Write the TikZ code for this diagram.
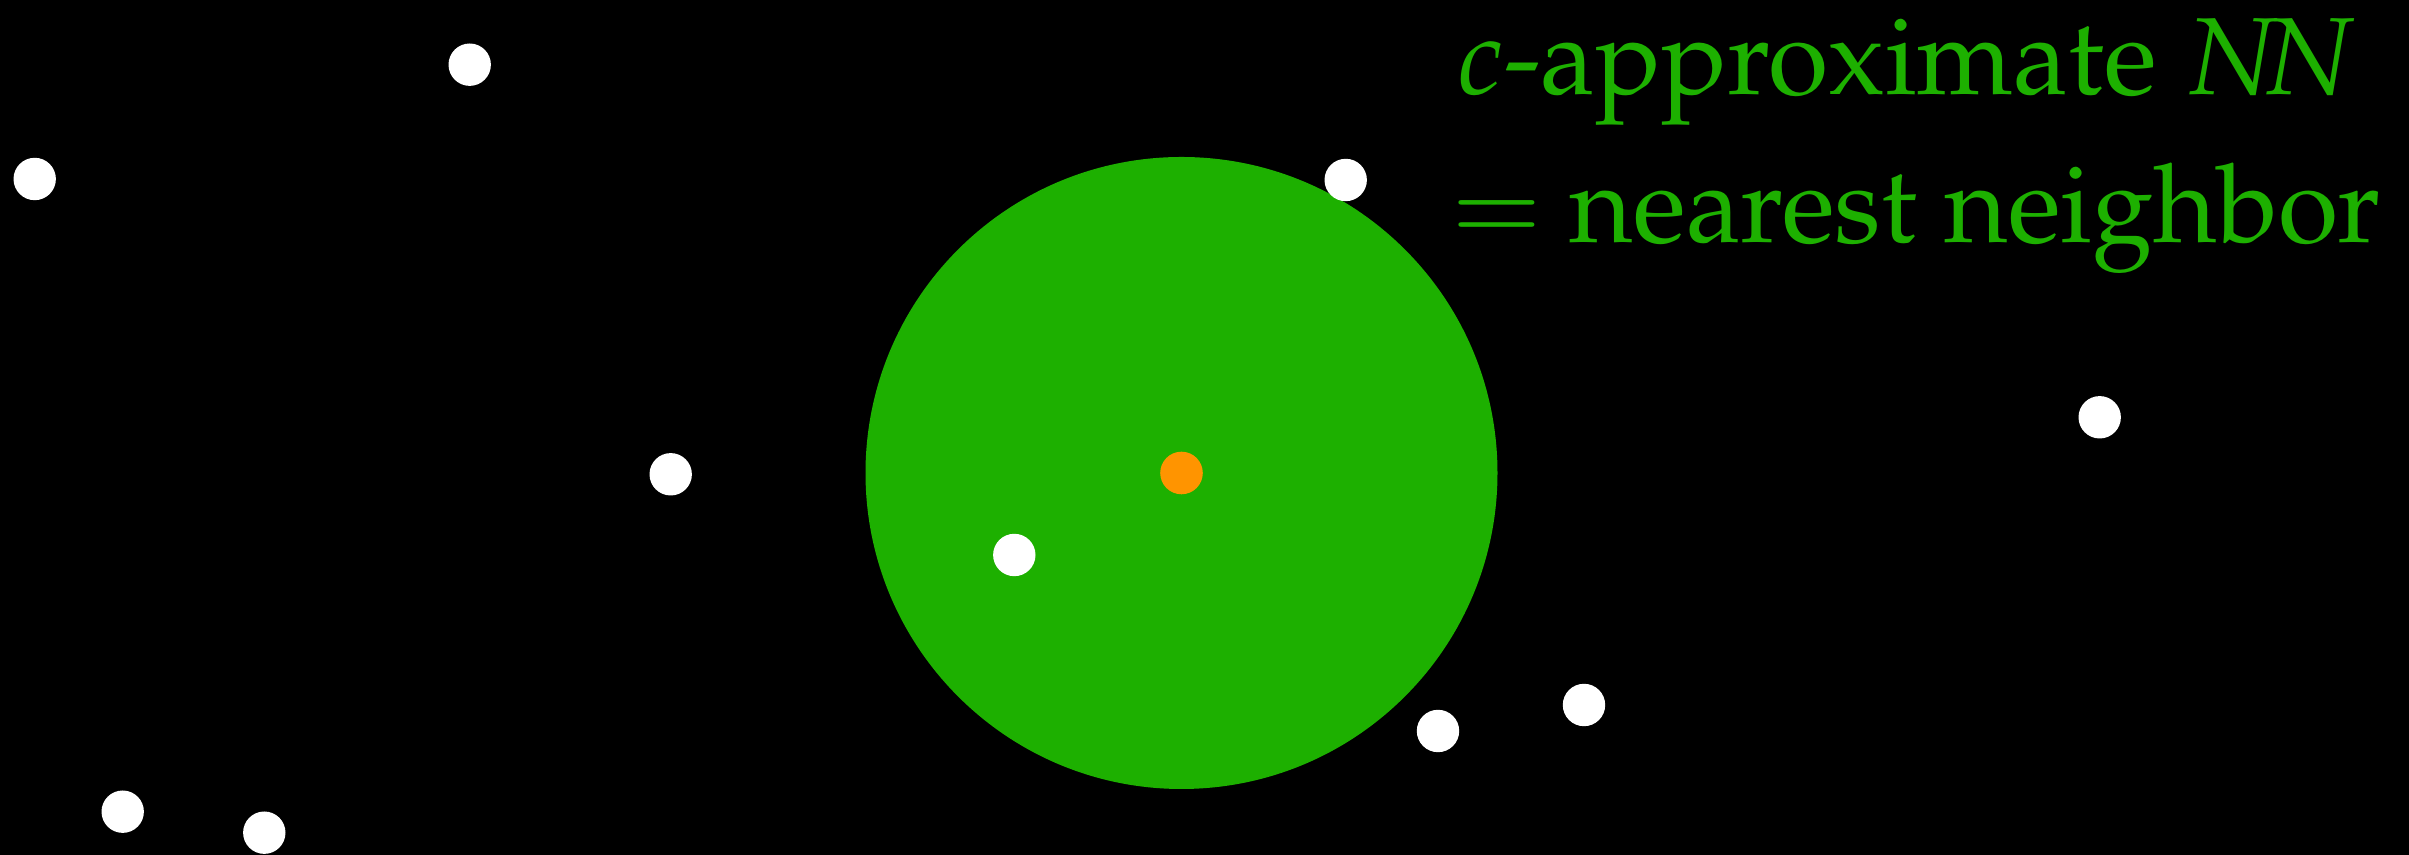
\documentclass[tikz,border=0pt]{standalone}
\usepackage[T1]{fontenc}
\usepackage{mathpazo}
\definecolor{ballgreen}{HTML}{1DB000}
\definecolor{qorange}{HTML}{FF9400}

\tikzset{
  pt/.style={circle,fill=white,inner sep=0pt,minimum size=0.424cm},
  query/.style={circle,fill=qorange,inner sep=0pt,minimum size=0.426cm},
  label/.style={ballgreen,inner sep=0pt,anchor=base west,font=\fontsize{31.2}{37}\selectfont}
}

\begin{document}
\begin{tikzpicture}

% === Background ===
\fill[black] (0,0) rectangle (24.09,8.55);
\useasboundingbox (0,0) rectangle (24.09,8.55);

% === Ball around the query (radius c times the NN distance) ===
\def\rBall{3.16}
\node[circle,fill=ballgreen,inner sep=0pt,minimum size=2*\rBall cm] (ball) at (11.815,3.82) {};

% Query point
\node[query] (q) at (ball.center) {};

% === Data points ===
\node[pt] (p1) at (4.697,7.903) {};
\node[pt] (p2) at (0.347,6.760) {};
\node[pt] (nn) at (13.457,6.750) {};
\node[pt] (p3) at (20.997,4.377) {};
\node[pt] (p4) at (6.707,3.807) {};
\node[pt] (cnn) at (10.143,3.000) {};
\node[pt] (p5) at (15.840,1.500) {};
\node[pt] (p6) at (14.380,1.240) {};
\node[pt] (p7) at (1.227,0.433) {};
\node[pt] (p8) at (2.643,0.223) {};

% === Label ===
\node[label] (title) at (14.56,7.60) {$c$-approximate $N\!N$};
\node[label] (subtitle) at (14.50,6.12) {$=$ nearest neighbor};

\end{tikzpicture}
\end{document}
